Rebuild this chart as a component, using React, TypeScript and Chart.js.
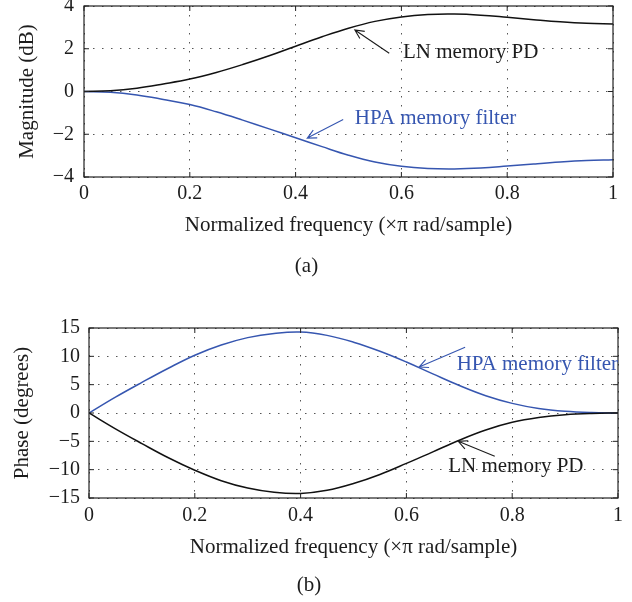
import { useEffect, useRef } from 'react';
import { Chart, registerables } from 'chart.js';

Chart.register(...registerables);

// ---- data ----
const freq = [0, 0.05, 0.1, 0.15, 0.2, 0.25, 0.3, 0.35, 0.4, 0.45, 0.5, 0.55, 0.6, 0.65, 0.7, 0.75, 0.8, 0.85, 0.9, 0.95, 1];
const lnMagnitude = [0, 0.03, 0.15, 0.35, 0.58, 0.89, 1.26, 1.67, 2.12, 2.56, 2.96, 3.28, 3.49, 3.6, 3.62, 3.57, 3.47, 3.36, 3.26, 3.19, 3.16];
const hpaMagnitude = [0, -0.03, -0.16, -0.37, -0.61, -0.95, -1.34, -1.75, -2.16, -2.58, -2.98, -3.3, -3.5, -3.6, -3.62, -3.58, -3.49, -3.39, -3.3, -3.23, -3.19];
const hpaPhase = [0, 2.8, 5.4, 7.9, 10.2, 12.0, 13.3, 14.05, 14.3, 13.7, 12.5, 10.9, 9.0, 6.9, 4.85, 3.05, 1.7, 0.8, 0.3, 0.07, 0];
const lnPhase = [0, -2.8, -5.4, -7.9, -10.1, -11.95, -13.25, -14.0, -14.2, -13.65, -12.45, -10.85, -8.9, -6.85, -4.8, -3.0, -1.65, -0.8, -0.3, -0.07, 0];

const xTicks = [0, 0.2, 0.4, 0.6, 0.8, 1];
const magTicks = [-4, -2, 0, 2, 4];
const phaseTicks = [-15, -10, -5, 0, 5, 10, 15];
const seriesNames = ['LN memory PD', 'HPA memory filter'];
const xTitle = 'Normalized frequency (×π rad/sample)';
const magTitle = 'Magnitude (dB)';
const phaseTitle = 'Phase (degrees)';
const captions = ['(a)', '(b)'];

// ---- styles ----
const FONT = "'Liberation Serif', 'Times New Roman', serif";
const TEXT = '#1c1c1c';
const BLACK = '#111111';
const BLUE = '#3656b0';
const GRID = '#555555';

type Note = { text: string; color: string; tx: number; ty: number; from: [number, number]; to: [number, number] };

const magNotes: Note[] = [
  { text: seriesNames[0], color: TEXT, tx: 0.603, ty: 1.84, from: [0.577, 1.79], to: [0.512, 2.88] },
  { text: seriesNames[1], color: BLUE, tx: 0.512, ty: -1.24, from: [0.49, -1.31], to: [0.422, -2.18] },
];
const phaseNotes: Note[] = [
  { text: seriesNames[1], color: BLUE, tx: 0.695, ty: 8.57, from: [0.711, 11.6], to: [0.624, 8.1] },
  { text: seriesNames[0], color: TEXT, tx: 0.679, ty: -9.4, from: [0.767, -7.65], to: [0.698, -5.0] },
];

const fmt = (v: number) => {
  const s = String(Math.round(v * 100) / 100);
  return s.replace('-', '\u2212');
};

function axesPlugin(notes: Note[]) {
  return {
    id: 'matlabAxes',
    afterDraw(chart: any) {
      const { ctx, chartArea: a, scales } = chart;
      const xs = scales.x;
      const ys = scales.y;
      ctx.save();
      ctx.strokeStyle = '#222';
      ctx.lineWidth = 1.2;
      ctx.strokeRect(a.left, a.top, a.right - a.left, a.bottom - a.top);
      ctx.lineWidth = 1;
      ctx.beginPath();
      const tl = 5;
      for (const t of xs.ticks) {
        const px = xs.getPixelForValue(t.value);
        ctx.moveTo(px, a.bottom);
        ctx.lineTo(px, a.bottom - tl);
        ctx.moveTo(px, a.top);
        ctx.lineTo(px, a.top + tl);
      }
      for (const t of ys.ticks) {
        const py = ys.getPixelForValue(t.value);
        ctx.moveTo(a.left, py);
        ctx.lineTo(a.left + tl, py);
        ctx.moveTo(a.right, py);
        ctx.lineTo(a.right - tl, py);
      }
      ctx.stroke();

      ctx.font = `21px ${FONT}`;
      ctx.textBaseline = 'middle';
      ctx.textAlign = 'left';
      for (const n of notes) {
        ctx.fillStyle = n.color;
        ctx.fillText(n.text, xs.getPixelForValue(n.tx), ys.getPixelForValue(n.ty));
        const x1 = xs.getPixelForValue(n.from[0]);
        const y1 = ys.getPixelForValue(n.from[1]);
        const x2 = xs.getPixelForValue(n.to[0]);
        const y2 = ys.getPixelForValue(n.to[1]);
        const ang = Math.atan2(y2 - y1, x2 - x1);
        const L = 10;
        const w = 0.45;
        ctx.strokeStyle = n.color;
        ctx.lineWidth = 1.1;
        ctx.beginPath();
        ctx.moveTo(x1, y1);
        ctx.lineTo(x2, y2);
        ctx.moveTo(x2 - L * Math.cos(ang - w), y2 - L * Math.sin(ang - w));
        ctx.lineTo(x2, y2);
        ctx.lineTo(x2 - L * Math.cos(ang + w), y2 - L * Math.sin(ang + w));
        ctx.stroke();
      }
      ctx.restore();
    },
  };
}

type PanelCfg = {
  ln: number[];
  hpa: number[];
  yTicks: number[];
  yTitle: string;
  caption: string;
  notes: Note[];
  height: number;
  padTop: number;
  padRight: number;
  padBottom: number;
  yWidth: number;
  yTickPad: number;
  yTitlePad: number;
  xHeight: number;
  xTickPad: number;
  xTitlePad: number;
};

function buildConfig(p: PanelCfg): any {
  const tickFont = { family: FONT, size: 20 };
  const titleFont = { family: FONT, size: 21 };
  return {
    type: 'line',
    data: {
      datasets: [
        {
          label: seriesNames[0],
          data: freq.map((x, i) => ({ x, y: p.ln[i] })),
          borderColor: BLACK,
          borderWidth: 1.5,
          pointRadius: 0,
          tension: 0.4,
          fill: false,
        },
        {
          label: seriesNames[1],
          data: freq.map((x, i) => ({ x, y: p.hpa[i] })),
          borderColor: BLUE,
          borderWidth: 1.5,
          pointRadius: 0,
          tension: 0.4,
          fill: false,
        },
      ],
    },
    options: {
      responsive: false,
      animation: false,
      devicePixelRatio: 1,
      layout: { padding: { top: p.padTop, right: p.padRight, left: 0, bottom: p.padBottom } },
      plugins: {
        legend: { display: false },
        tooltip: { enabled: false },
        title: {
          display: true,
          text: p.caption,
          position: 'bottom',
          font: { ...titleFont, weight: 'normal' },
          color: TEXT,
          padding: 0,
        },
      },
      scales: {
        x: {
          type: 'linear',
          min: 0,
          max: 1,
          afterBuildTicks: (s: any) => {
            s.ticks = xTicks.map((v) => ({ value: v }));
          },
          ticks: { padding: p.xTickPad, font: tickFont, color: TEXT, maxRotation: 0, autoSkip: false, callback: (v: number) => fmt(v) },
          grid: { color: GRID, lineWidth: 1, drawTicks: false },
          border: { display: false, dash: [1.5, 7.5] },
          title: { display: true, text: xTitle, font: titleFont, color: TEXT, padding: { top: 0, bottom: p.xTitlePad } },
          afterFit: (s: any) => {
            s.height = p.xHeight;
            s.paddingLeft = 0;
            s.paddingRight = 0;
          },
        },
        y: {
          type: 'linear',
          min: p.yTicks[0],
          max: p.yTicks[p.yTicks.length - 1],
          afterBuildTicks: (s: any) => {
            s.ticks = p.yTicks.map((v) => ({ value: v }));
          },
          ticks: { padding: p.yTickPad, font: tickFont, color: TEXT, autoSkip: false, callback: (v: number) => fmt(v) },
          grid: { color: GRID, lineWidth: 1, drawTicks: false },
          border: { display: false, dash: [1.5, 7.5] },
          title: { display: true, text: p.yTitle, font: titleFont, color: TEXT, padding: { top: p.yTitlePad, bottom: 0 } },
          afterFit: (s: any) => {
            s.width = p.yWidth;
            s.paddingTop = 0;
            s.paddingBottom = 0;
          },
        },
      },
    },
    plugins: [axesPlugin(p.notes)],
  };
}

function Panel({ cfg, top }: { cfg: PanelCfg; top: number }) {
  const ref = useRef<HTMLCanvasElement | null>(null);
  useEffect(() => {
    if (!ref.current) return;
    const chart = new Chart(ref.current, buildConfig(cfg));
    return () => chart.destroy();
  }, [cfg]);
  return (
    <canvas
      ref={ref}
      width={632}
      height={cfg.height}
      style={{ position: 'absolute', left: 0, top, width: 632, height: cfg.height, display: 'block' }}
    />
  );
}

const magPanel: PanelCfg = {
  ln: lnMagnitude,
  hpa: hpaMagnitude,
  yTicks: magTicks,
  yTitle: magTitle,
  caption: captions[0],
  notes: magNotes,
  height: 300,
  padTop: 6,
  padRight: 19,
  padBottom: 21.4,
  yWidth: 84,
  yTickPad: 10,
  yTitlePad: 14.4,
  xHeight: 76.4,
  xTickPad: 5,
  xTitlePad: 15.8,
};

const phasePanel: PanelCfg = {
  ln: lnPhase,
  hpa: hpaPhase,
  yTicks: phaseTicks,
  yTitle: phaseTitle,
  caption: captions[1],
  notes: phaseNotes,
  height: 302,
  padTop: 28,
  padRight: 14,
  padBottom: 4.4,
  yWidth: 89,
  yTickPad: 9,
  yTitlePad: 9.4,
  xHeight: 74.4,
  xTickPad: 6,
  xTitlePad: 12.8,
};

export default function App() {
  return (
    <div style={{ position: 'absolute', left: 0, top: 0, width: 632, height: 602, background: '#fff' }}>
      <Panel cfg={magPanel} top={0} />
      <Panel cfg={phasePanel} top={300} />
    </div>
  );
}
